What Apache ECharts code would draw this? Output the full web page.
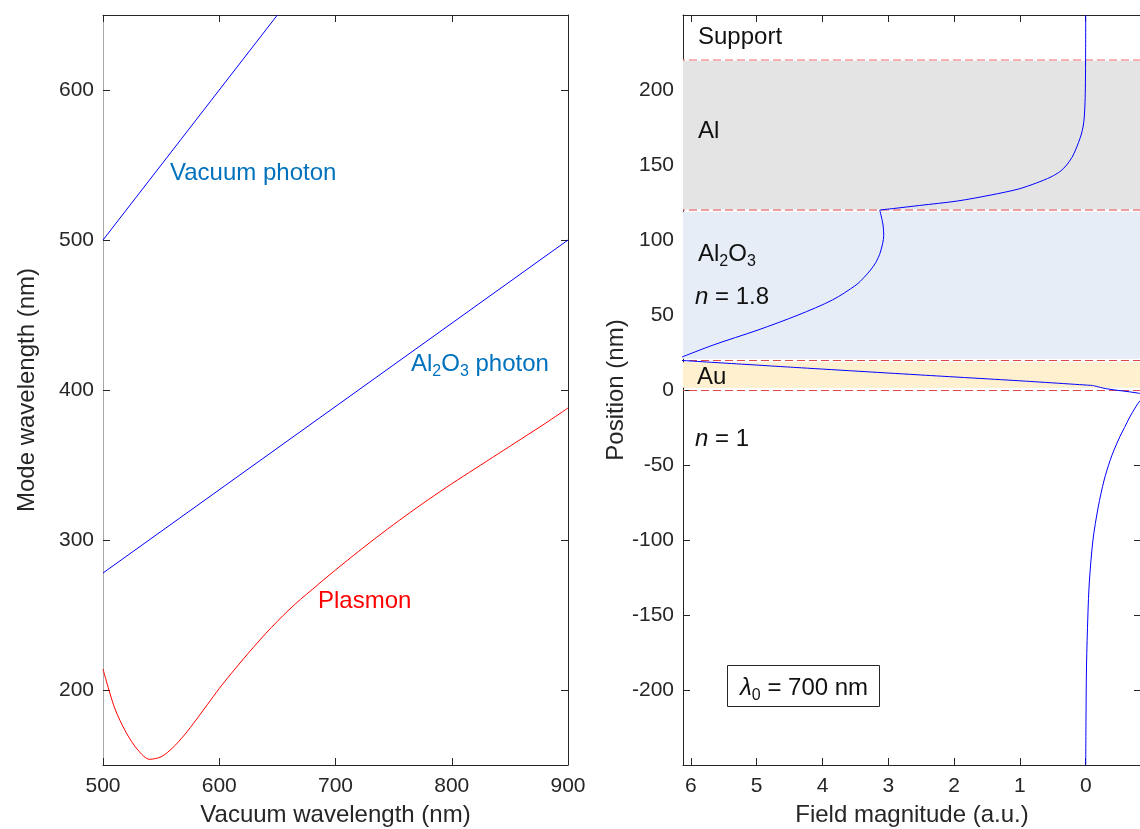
<!DOCTYPE html>
<html>
<head>
<meta charset="utf-8">
<script src="https://cdn.jsdelivr.net/npm/echarts@6/dist/echarts.min.js"></script>
<style>
  html, body { margin: 0; background: #fff; }
  #chart { width: 1140px; height: 829px; }
</style>
</head>
<body>
<div id="chart"></div>
<script>
// left panel: mode wavelength (nm) vs vacuum wavelength (nm)
const vacuumX = [500, 650]
const vacuumY = [500, 650]
const oxideX = [500, 900]
const oxideY = [278, 500]
const plasmonX = [500, 510, 520, 530, 540, 550, 560, 570, 580, 590, 600, 610, 620, 630, 640, 650, 660, 670, 680, 690, 700,
  720, 740, 760, 780, 800, 820, 840, 860, 880, 900]
const plasmonY = [214, 188, 171.5, 160, 153.8, 155.5, 161.5, 170, 180, 190.5, 201, 210.7, 220, 229, 237.7, 245.8, 253.5, 260.5, 267, 273.6, 280,
  292.5, 304.5, 316, 327, 337.5, 347.5, 357.5, 367.5, 377.5, 388]
const leftXTicks = [500, 600, 700, 800, 900]
const leftYTicks = [200, 300, 400, 500, 600]

// right panel: field magnitude (a.u.) vs position (nm), one piece per layer
const alPos = [250, 220, 200, 190, 182, 176, 170, 165, 160, 155, 150, 146, 142, 138, 134, 130, 126, 123, 121, 120]
const alMag = [0, 0.002, 0.006, 0.012, 0.022, 0.038, 0.07, 0.11, 0.155, 0.21, 0.29, 0.38, 0.53, 0.75, 1.02, 1.44, 1.95, 2.53, 2.92, 3.13]
const oxPos = [120, 110, 103, 92, 85, 80, 75, 70, 60, 50, 40, 30, 20]
const oxMag = [3.13, 3.08, 3.07, 3.12, 3.19, 3.27, 3.37, 3.49, 3.85, 4.37, 4.98, 5.66, 6.25]
const auPos = [20, 15, 10, 6, 3]
const auMag = [6.25, 4.4, 2.5, 0.95, -0.11]
const airPos = [3, 0.8, -2.1, -4, -7, -12, -18, -25, -31, -40, -47, -60, -78, -100, -128, -150, -184, -220, -250]
const airMag = [-0.11, -0.32, -0.8, -0.95, -0.83, -0.75, -0.67, -0.59, -0.52, -0.43, -0.37, -0.28, -0.19, -0.11, -0.055, -0.033, -0.012, -0.004, 0]
const rightXTicks = [0, 1, 2, 3, 4, 5, 6]
const rightYTicks = [-200, -150, -100, -50, 0, 50, 100, 150, 200]

// layer stack (nm)
const layerBottoms = [120.3, 20.8, 1.5]
const layerTops = [219.5, 118.8, 18.5]
const layerColors = ['#e4e4e4', '#e6edf7', '#fff1cf']
const interfaces = [220, 120, 20, 0]
const interfaceColors = ['#f59a9a', '#ea8080', '#e04848', '#e04848']

const font = 'Liberation Sans, Arial, sans-serif'
const ink = '#262626'

const zip = (xs, ys) => xs.map((x, i) => [x, ys[i]])

function axis(gridIndex, ticks, opts) {
  return Object.assign({
    gridIndex,
    type: 'value',
    splitLine: { show: false },
    axisLine: { show: true, onZero: false, lineStyle: { color: ink, width: 1 } },
    axisTick: { show: true, inside: true, length: 7, lineStyle: { color: ink }, customValues: ticks },
    axisLabel: { show: true, color: ink, fontSize: 21, fontFamily: font, margin: 9, customValues: ticks },
    nameTextStyle: { color: ink, fontSize: 24, fontFamily: font },
    nameLocation: 'middle'
  }, opts)
}

// mirrored axis on the opposite side: ticks only
const mirror = (gridIndex, ticks, opts) =>
  axis(gridIndex, ticks, Object.assign({ axisLabel: { show: false } }, opts))

function line(xi, data, color, extra) {
  return Object.assign({
    type: 'line',
    xAxisIndex: xi,
    yAxisIndex: xi,
    data,
    showSymbol: false,
    symbol: 'none',
    silent: true,
    clip: true,
    lineStyle: { color, width: 1 },
    z: 5
  }, extra)
}

function text(x, y, str, extra) {
  return {
    type: 'text', x, y, z: 100,
    style: Object.assign({
      text: str, fontSize: 24, fontFamily: font, fill: '#111', verticalAlign: 'middle'
    }, extra)
  }
}

// normal tokens centred in a tall line, subscripts pushed to its bottom
const rich = color => ({
  n: { fontSize: 24, fontFamily: font, fill: color, lineHeight: 34, verticalAlign: 'middle' },
  i: { fontSize: 24, fontFamily: font, fill: color, lineHeight: 34, verticalAlign: 'middle', fontStyle: 'italic' },
  s: { fontSize: 16, fontFamily: font, fill: color, height: 18, lineHeight: 18, verticalAlign: 'bottom' }
})

const chart = echarts.init(document.getElementById('chart'), null, { renderer: 'canvas' })

chart.setOption({
  animation: false,
  backgroundColor: '#fff',
  grid: [
    { left: 103, top: 15, width: 465, height: 750, outerBoundsMode: 'none' },
    { left: 683, top: 15, width: 458, height: 750, outerBoundsMode: 'none' }
  ],
  xAxis: [
    axis(0, leftXTicks, {
      min: 500, max: 900, position: 'bottom',
      axisLabel: { show: true, color: ink, fontSize: 21, fontFamily: font, margin: 11, customValues: leftXTicks },
      name: 'Vacuum wavelength (nm)', nameGap: 38
    }),
    mirror(0, leftXTicks, { min: 500, max: 900, position: 'top' }),
    axis(1, rightXTicks, {
      min: -0.84, max: 6.12, inverse: true, position: 'bottom',
      axisLabel: { show: true, color: ink, fontSize: 21, fontFamily: font, margin: 11, customValues: rightXTicks },
      name: 'Field magnitude (a.u.)', nameGap: 38
    }),
    mirror(1, rightXTicks, { min: -0.84, max: 6.12, inverse: true, position: 'top' })
  ],
  yAxis: [
    axis(0, leftYTicks, {
      min: 150, max: 650, position: 'left',
      axisLine: { show: true, onZero: false, lineStyle: { color: '#a8a8a8', width: 1 } },
      name: 'Mode wavelength (nm)', nameGap: 64
    }),
    mirror(0, leftYTicks, { min: 150, max: 650, position: 'right' }),
    axis(1, rightYTicks, {
      min: -250, max: 250, position: 'left',
      name: 'Position (nm)', nameGap: 55
    }),
    mirror(1, rightYTicks, { min: -250, max: 250, position: 'right' })
  ],
  series: [
    line(0, zip(vacuumX, vacuumY), '#0000ff'),
    line(0, zip(oxideX, oxideY), '#0000ff'),
    line(0, zip(plasmonX, plasmonY), '#ff0000', { smooth: 0.3 }),
    {
      type: 'line',
      xAxisIndex: 2,
      yAxisIndex: 2,
      data: [],
      silent: true,
      z: 1,
      markArea: {
        silent: true,
        data: layerBottoms.map((b, i) => [
          { yAxis: b, itemStyle: { color: layerColors[i] } },
          { yAxis: layerTops[i] }
        ])
      },
      markLine: {
        silent: true,
        symbol: 'none',
        label: { show: false },
        data: interfaces.map((v, i) => ({
          yAxis: v,
          lineStyle: { color: interfaceColors[i], type: [8, 4], width: i < 2 ? 1.5 : 1 }
        }))
      }
    },
    line(2, zip(alMag, alPos), '#0000ff', { smooth: 0.3, z: 6 }),
    line(2, zip(oxMag, oxPos), '#0000ff', { smooth: 0.3, z: 6 }),
    line(2, zip(auMag, auPos), '#0000ff', { smooth: 0.2, z: 6 }),
    line(2, zip(airMag, airPos), '#0000ff', { smooth: 0.3, z: 6 })
  ],
  graphic: [
    text(170, 173, 'Vacuum photon', { fill: '#0072bd' }),
    text(411, 364, '{n|Al}{s|2}{n|O}{s|3}{n| photon}', { rich: rich('#0072bd') }),
    text(318, 601, 'Plasmon', { fill: '#ff0000' }),
    text(698, 37, 'Support'),
    text(698, 131, 'Al'),
    text(698, 254, '{n|Al}{s|2}{n|O}{s|3}', { rich: rich('#111') }),
    text(695, 297, '{i|n}{n| = 1.8}', { rich: rich('#111') }),
    text(697, 377, 'Au'),
    text(695, 439, '{i|n}{n| = 1}', { rich: rich('#111') }),
    {
      type: 'rect', z: 99,
      shape: { x: 727.5, y: 665.5, width: 152, height: 41 },
      style: { fill: '#fff', stroke: ink, lineWidth: 1 }
    },
    text(740, 688, '{i|λ}{s|0}{n| = 700 nm}', { rich: rich('#111') })
  ]
})
</script>
</body>
</html>
